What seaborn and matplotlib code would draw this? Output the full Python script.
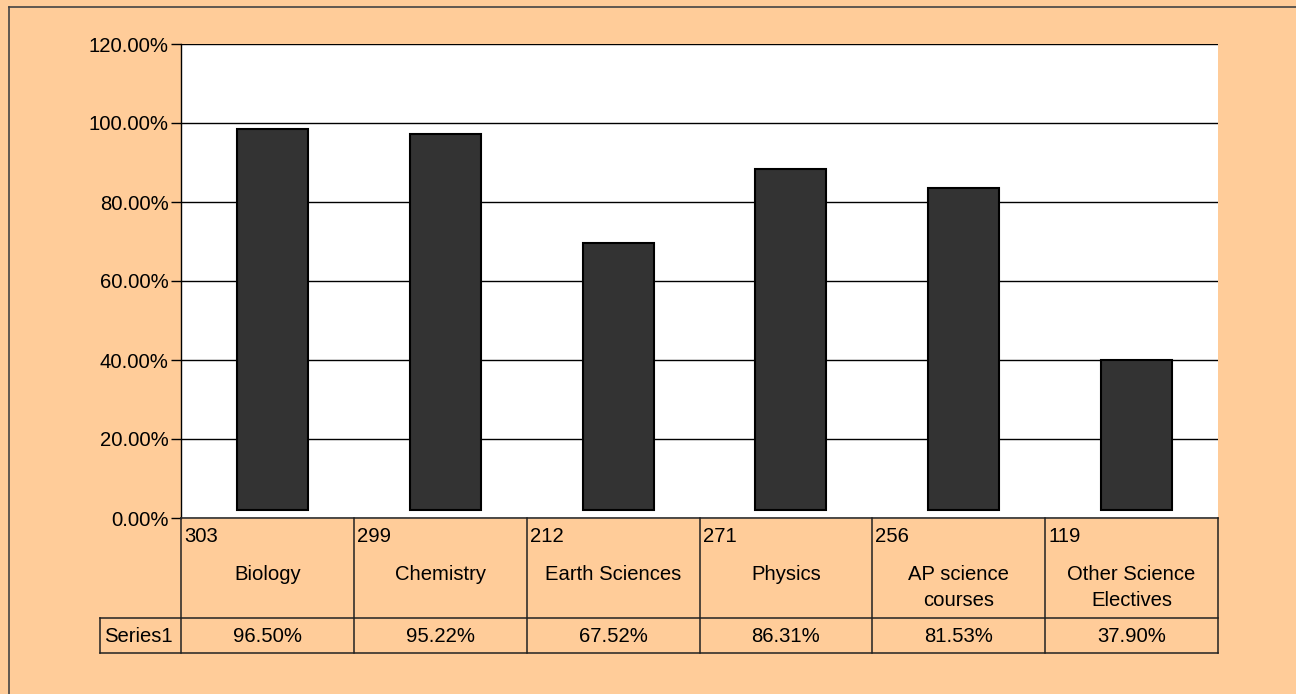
import matplotlib
matplotlib.use("Agg")
import matplotlib.pyplot as plt
import seaborn as sns
from matplotlib.lines import Line2D

categories = ["Biology", "Chemistry", "Earth Sciences", "Physics",
              "AP science\ncourses", "Other Science\nElectives"]
counts = [303, 299, 212, 271, 256, 119]
percent = [96.50, 95.22, 67.52, 86.31, 81.53, 37.90]
series_name = "Series1"
y_ticks = [0, 20, 40, 60, 80, 100, 120]

W, H = 1296, 694
BG = "#FFCC99"
plt.rcParams["font.family"] = ["Liberation Sans", "DejaVu Sans"]
FS = 14.6

fig = plt.figure(figsize=(W / 100, H / 100), dpi=100, facecolor=BG)

# plot area in pixels
L, R, T, B = 181, 1218, 44, 518
ax = fig.add_axes([L / W, 1 - B / H, (R - L) / W, (B - T) / H])
ax.set_facecolor("white")

sns.barplot(x=categories, y=percent, ax=ax, color="#333333", width=0.41,
            edgecolor="black", linewidth=1.5, saturation=1, bottom=2, zorder=3)

n = len(categories)
colw = (R - L) / n
shift = 5 / colw
ax.set_xlim(-0.5 - shift, n - 0.5 - shift)
ax.set_ylim(0, 120)
ax.set_yticks(y_ticks)
ax.set_yticklabels([f"{v:.2f}%" for v in y_ticks], fontsize=FS)
ax.yaxis.grid(True, color="black", linewidth=1, zorder=0)
ax.set_axisbelow(True)
ax.tick_params(axis="y", length=7, width=1, color="black", pad=2)
ax.tick_params(axis="x", length=0, labelbottom=False)
ax.set_xlabel("")
ax.set_ylabel("")
for s in ["top", "right"]:
    ax.spines[s].set_visible(False)
ax.spines["left"].set_color("black")
ax.spines["bottom"].set_color("#333333")
ax.spines["left"].set_linewidth(1)
ax.spines["bottom"].set_linewidth(1.2)


def fy(py):
    return 1 - py / H


def fx(px):
    return px / W


lc = "#222222"
lw = 1.1
# table grid
for k in range(n + 1):
    x = L + k * colw
    fig.add_artist(Line2D([fx(x), fx(x)], [fy(518), fy(653)], color=lc, lw=lw))
for yy in (618, 653):
    fig.add_artist(Line2D([fx(100), fx(R)], [fy(yy), fy(yy)], color=lc, lw=lw))
fig.add_artist(Line2D([fx(100), fx(100)], [fy(618), fy(653)], color=lc, lw=lw))

for i, (cat, cnt, pct) in enumerate(zip(categories, counts, percent)):
    x0 = L + i * colw
    fig.text(fx(x0 + 3), fy(537), str(cnt), fontsize=FS, ha="left", va="center")
    fig.text(fx(x0 + colw / 2), fy(565), cat, fontsize=FS, ha="center", va="top",
             linespacing=1.45, multialignment="center")
    fig.text(fx(x0 + colw / 2), fy(636), f"{pct:.2f}%", fontsize=FS,
             ha="center", va="center")
fig.text(fx(104), fy(636), series_name, fontsize=FS, ha="left", va="center")

# outer chart border (left and top visible)
fig.add_artist(Line2D([fx(8.5), fx(8.5)], [fy(7), fy(H)], color="#444444", lw=1.2))
fig.add_artist(Line2D([fx(8.5), fx(W)], [fy(7), fy(7)], color="#444444", lw=1.2))

fig.savefig("out.png", dpi=100, facecolor=BG)
